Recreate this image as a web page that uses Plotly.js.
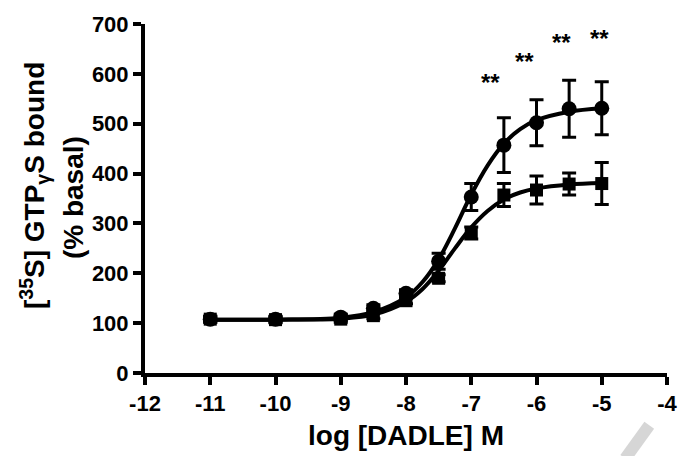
<!DOCTYPE html>
<html>
<head>
<meta charset="utf-8">
<script src="https://cdn.plot.ly/plotly-3.0.1.min.js"></script>
<style>
html,body{margin:0;padding:0;background:#fff;}
#chart{width:680px;height:456px;}
</style>
</head>
<body>
<div id="chart"></div>
<script>
// log [DADLE] M concentrations
var logDose = [-11, -10, -9, -8.5, -8, -7.5, -7, -6.5, -6, -5.5, -5];
// circle series (mean, +err)
var circleMean = [108, 108, 112, 130, 160, 224, 353, 457, 502, 530, 531];
var circleErr  = [6, 6, 6, 7, 7, 16, 27, 55, 46, 57, 53];
// square series
var squareMean = [108, 107, 108, 115, 145, 190, 281, 357, 367, 379, 380];
var squareErr  = [6, 6, 6, 6, 6, 7, 12, 23, 28, 22, 42];
// fitted curves
var curveX       = [-11, -10, -9, -8.5, -8, -7.75, -7.5, -7.25, -7, -6.75, -6.5, -6.25, -6, -5.5, -5];
var circleCurveY = [107, 107, 111, 122, 152, 182, 228, 290, 358, 416, 460, 489, 507, 524, 531];
var squareCurveY = [107, 107, 109, 117, 143, 168, 205, 250, 292, 325, 348, 362, 370, 378, 381];
// significance marks
var starX = [-6.70, -6.18, -5.61, -5.03];
var starY = [588, 630, 668, 676];
var starText = ['**', '**', '**', '**'];
// axis ticks and titles
var xTickVals = [-12, -11, -10, -9, -8, -7, -6, -5, -4];
var xTickText = ['-12', '-11', '-10', '-9', '-8', '-7', '-6', '-5', '-4'];
var yTickVals = [0, 100, 200, 300, 400, 500, 600, 700];
var yTickText = ['0', '100', '200', '300', '400', '500', '600', '700'];
var xTitle = 'log [DADLE] M';
var yTitleLines = ['[<sup>35</sup>S] GTP<sub>γ</sub>S bound', '(% basal)'];

var FONT = 'Liberation Sans, Arial, sans-serif';

var traces = [
  {x: curveX, y: circleCurveY, mode: 'lines', line: {color: '#000', width: 4, shape: 'spline'}, hoverinfo: 'skip'},
  {x: curveX, y: squareCurveY, mode: 'lines', line: {color: '#000', width: 4, shape: 'spline'}, hoverinfo: 'skip'},
  {x: logDose, y: squareMean, mode: 'markers',
   marker: {symbol: 'square', size: 13, color: '#000'},
   error_y: {type: 'data', array: squareErr, visible: true, color: '#000', thickness: 3, width: 7}},
  {x: logDose, y: circleMean, mode: 'markers',
   marker: {symbol: 'circle', size: 15, color: '#000'},
   error_y: {type: 'data', array: circleErr, visible: true, color: '#000', thickness: 3, width: 7}}
];

var annotations = starX.map(function (x, i) {
  return {x: x, y: starY[i], text: starText[i], showarrow: false, xref: 'x', yref: 'y',
          font: {family: FONT, size: 24, color: '#000', weight: 'bold'}, yshift: -3};
});
// y-axis title, two lines set close together
var yTitlePos = [{x: -0.211, y: 0.538}, {x: -0.138, y: 0.504}];
yTitleLines.forEach(function (t, i) {
  annotations.push({text: t, xref: 'paper', yref: 'paper', x: yTitlePos[i].x, y: yTitlePos[i].y,
    xanchor: 'center', yanchor: 'middle', textangle: -90, showarrow: false,
    font: {family: FONT, size: 28, color: '#000', weight: 'bold'}});
});

var layout = {
  width: 680, height: 456,
  margin: {l: 145, r: 13, t: 24, b: 83},
  paper_bgcolor: '#fff', plot_bgcolor: '#fff',
  showlegend: false,
  font: {family: FONT, color: '#000'},
  xaxis: {
    range: [-12, -4], tickvals: xTickVals, ticktext: xTickText,
    showgrid: false, zeroline: false, showline: true, linewidth: 4, linecolor: '#000',
    ticks: 'outside', ticklen: 8, tickwidth: 4, tickcolor: '#000',
    tickfont: {family: FONT, size: 22, color: '#000', weight: 'bold'},
    title: {text: xTitle, font: {family: FONT, size: 28, color: '#000', weight: 'bold'}, standoff: 11}
  },
  yaxis: {
    range: [0, 700], tickvals: yTickVals, ticktext: yTickText,
    showgrid: false, zeroline: false, showline: true, linewidth: 4, linecolor: '#000',
    ticks: 'outside', ticklen: 8, tickwidth: 4, tickcolor: '#000',
    tickfont: {family: FONT, size: 22, color: '#000', weight: 'bold'}
  },
  annotations: annotations,
  shapes: [
    {type: 'line', xref: 'paper', yref: 'paper', x0: 0.966, y0: -0.15, x1: 0.92, y1: -0.245,
     line: {color: '#d6d6d6', width: 12}}
  ]
};

Plotly.newPlot('chart', traces, layout, {displayModeBar: false, staticPlot: true});
</script>
</body>
</html>
